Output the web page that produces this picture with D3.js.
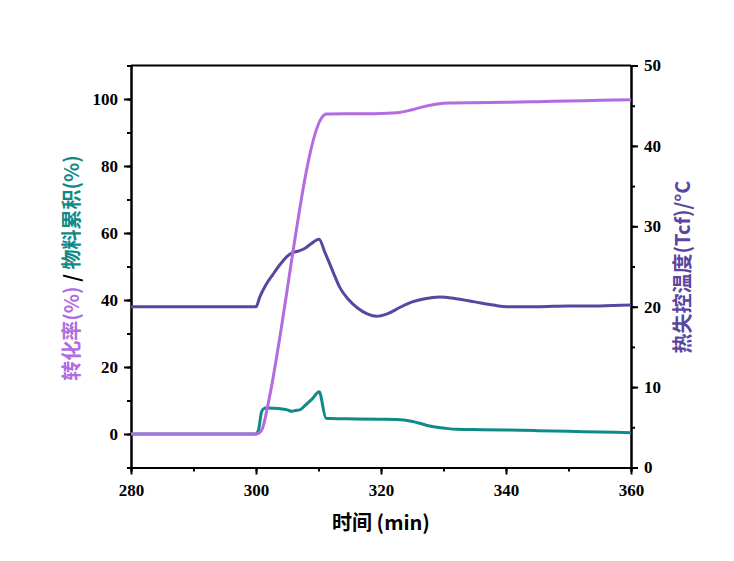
<!DOCTYPE html>
<html>
<head>
<meta charset="utf-8">
<script src="https://cdn.jsdelivr.net/npm/d3@7"></script>
<style>
  body { margin: 0; background: #fff; }
  .tick text { font-family: "Liberation Serif", serif; font-weight: bold; font-size: 17px; fill: #000; }
  .axis path, .axis line { stroke: #000; stroke-width: 2px; }
  .title { font-family: "Noto Sans CJK SC", sans-serif; font-weight: bold; font-size: 20px; }
</style>
</head>
<body>
<div id="chart"></div>
<script>
// conversion (%) - left axis
const convTime = [280, 300, 300.5, 301, 301.5, 302, 310.9, 311.2, 316, 320, 323, 325, 327, 329, 331, 335, 340, 345, 350, 355, 360];
const convValue = [0, 0, 0.3, 1.5, 5, 9.5, 95.2, 95.5, 95.6, 95.7, 96, 96.8, 97.8, 98.5, 98.8, 98.9, 99, 99.2, 99.4, 99.6, 99.8];

// material accumulation (%) - left axis
const accTime = [280, 300, 300.4, 300.9, 301.3, 301.7, 302.5, 303.5, 304.4, 305, 305.7, 306.3, 307, 308, 309, 310.1, 311.2, 312, 316, 320, 323.6, 326, 328, 330, 332.1, 336, 340, 345, 350, 355, 360];
const accValue = [0, 0, 1.2, 6.7, 7.6, 7.8, 7.7, 7.6, 7.4, 7.2, 6.8, 7.0, 7.2, 8.8, 10.5, 12.6, 4.7, 4.6, 4.5, 4.4, 4.2, 3.3, 2.3, 1.8, 1.4, 1.3, 1.2, 1.0, 0.8, 0.6, 0.4];

// runaway temperature Tcf (°C) - right axis
const tempTime = [280, 300, 300.6, 301.5, 302.7, 304, 304.9, 305.8, 306.7, 307.7, 308.6, 310.1, 311, 311.6, 312.5, 313.4, 314.8, 316.3, 317.8, 319.3, 321, 323, 325, 327, 329.4, 332, 335, 338, 340.1, 345, 350, 355, 360];
const tempValue = [20, 20, 21.2, 22.6, 24.0, 25.4, 26.2, 26.7, 26.9, 27.2, 27.7, 28.4, 26.8, 25.7, 24, 22.4, 20.9, 19.8, 19.1, 18.8, 19.1, 19.9, 20.6, 21.0, 21.2, 21.0, 20.6, 20.2, 20.0, 20.0, 20.1, 20.1, 20.2];

const xTicks = [280, 300, 320, 340, 360];
const leftTicks = [0, 20, 40, 60, 80, 100];
const rightTicks = [0, 10, 20, 30, 40, 50];

const colors = { conv: '#B26CE0', acc: '#0F8A87', temp: '#5A46A0' };

const width = 734, height = 561;
const margin = { top: 65.5, right: 103, bottom: 93.5, left: 131 };
const w = width - margin.left - margin.right;
const h = height - margin.top - margin.bottom;

const svg = d3.select('#chart').append('svg')
    .attr('width', width)
    .attr('height', height);

const g = svg.append('g')
    .attr('transform', `translate(${margin.left},${margin.top})`);

const x = d3.scaleLinear().domain([280, 360]).range([0, w]);
const yL = d3.scaleLinear().domain([-10, 110]).range([h, 0]);
const yR = d3.scaleLinear().domain([0, 50]).range([h, 0]);

// minor ticks
g.append('g').attr('class', 'axis').attr('transform', `translate(0,${h})`)
    .call(d3.axisBottom(x).tickValues(d3.range(280, 361, 10)).tickSize(4).tickFormat(''));
g.append('g').attr('class', 'axis')
    .call(d3.axisLeft(yL).tickValues(d3.range(-10, 111, 10)).tickSize(4).tickFormat(''));
g.append('g').attr('class', 'axis').attr('transform', `translate(${w},0)`)
    .call(d3.axisRight(yR).tickValues(d3.range(0, 51, 5)).tickSize(4).tickFormat(''));

// major axes
g.append('g').attr('class', 'axis').attr('transform', `translate(0,${h})`)
    .call(d3.axisBottom(x).tickValues(xTicks).tickSize(7).tickPadding(9).tickSizeOuter(0));
g.append('g').attr('class', 'axis')
    .call(d3.axisLeft(yL).tickValues(leftTicks).tickSize(7).tickPadding(6).tickSizeOuter(0));
g.append('g').attr('class', 'axis').attr('transform', `translate(${w},0)`)
    .call(d3.axisRight(yR).tickValues(rightTicks).tickSize(7).tickPadding(6).tickSizeOuter(0));

// top border
g.append('line')
    .attr('x1', 0).attr('x2', w).attr('y1', 0).attr('y2', 0)
    .attr('stroke', '#000').attr('stroke-width', 2);

const lineL = (t, v) => d3.line()
    .x((d, i) => x(t[i]))
    .y(d => yL(d))
    .curve(d3.curveMonotoneX)(v);
const lineR = (t, v) => d3.line()
    .x((d, i) => x(t[i]))
    .y(d => yR(d))
    .curve(d3.curveMonotoneX)(v);

g.append('path').attr('d', lineR(tempTime, tempValue))
    .attr('fill', 'none').attr('stroke', colors.temp).attr('stroke-width', 3);
g.append('path').attr('d', lineL(accTime, accValue))
    .attr('fill', 'none').attr('stroke', colors.acc).attr('stroke-width', 3);
g.append('path').attr('d', lineL(convTime, convValue))
    .attr('fill', 'none').attr('stroke', colors.conv).attr('stroke-width', 3);

// titles
svg.append('text').attr('class', 'title')
    .attr('x', margin.left + w / 2).attr('y', 530)
    .attr('text-anchor', 'middle')
    .text('时间 (min)');

const lt = svg.append('text').attr('class', 'title')
    .attr('transform', 'translate(79,268) rotate(-90)')
    .attr('text-anchor', 'middle');
lt.append('tspan').attr('fill', colors.conv).text('转化率(%)');
lt.append('tspan').attr('fill', '#000').text(' / ');
lt.append('tspan').attr('fill', colors.acc).text('物料累积(%)');

svg.append('text').attr('class', 'title')
    .attr('transform', 'translate(690,267) rotate(-90)')
    .attr('text-anchor', 'middle')
    .attr('fill', colors.temp)
    .text('热失控温度(Tcf)/°C');
</script>
</body>
</html>
